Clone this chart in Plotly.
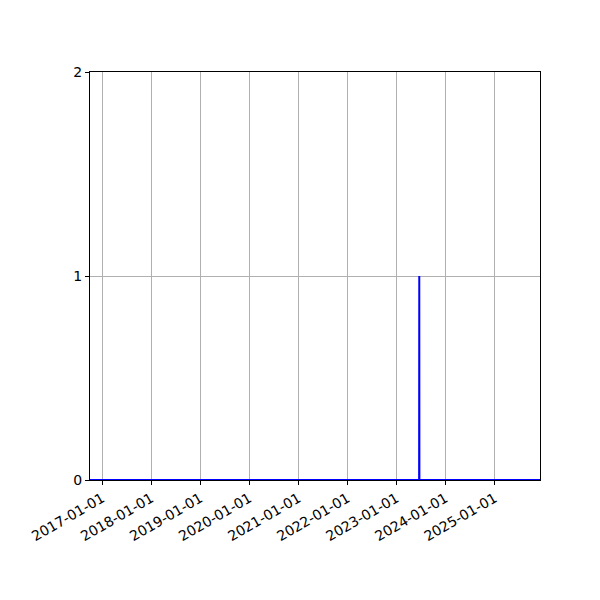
import plotly.graph_objects as go

# daily counts, zero everywhere except one day in mid 2023
dates = ["2016-10-02", "2023-06-19", "2023-06-20", "2023-06-21", "2025-12-05"]
counts = [0, 0, 1, 0, 0]

tick_dates = ["2017-01-01", "2018-01-01", "2019-01-01", "2020-01-01", "2021-01-01",
              "2022-01-01", "2023-01-01", "2024-01-01", "2025-01-01"]
y_ticks = [0, 1, 2]

fig = go.Figure()
fig.add_trace(go.Scatter(x=dates, y=counts, mode="lines",
                         line=dict(color="blue", width=2), showlegend=False))

# page body has an 8px margin, so the plot box is shifted back by 8px
fig.update_layout(
    width=600, height=600,
    margin=dict(l=82, r=68, t=64, b=128),
    paper_bgcolor="white", plot_bgcolor="white",
    font=dict(family="DejaVu Sans", size=14, color="black"),
)
fig.update_xaxes(
    range=[dates[0], dates[-1]],
    tickvals=tick_dates, ticktext=tick_dates, tickangle=-30,
    ticks="outside", ticklen=4, tickcolor="black",
    showgrid=True, gridcolor="#b0b0b0", gridwidth=1,
    showline=True, linecolor="black", linewidth=1, mirror=True,
    zeroline=False, layer="below traces",
)
fig.update_yaxes(
    range=[0, 2], tickvals=y_ticks,
    ticks="outside", ticklen=4, tickcolor="black",
    showgrid=True, gridcolor="#b0b0b0", gridwidth=1,
    showline=True, linecolor="black", linewidth=1, mirror=True,
    zeroline=False, layer="below traces",
)

fig.write_html("out.html")
